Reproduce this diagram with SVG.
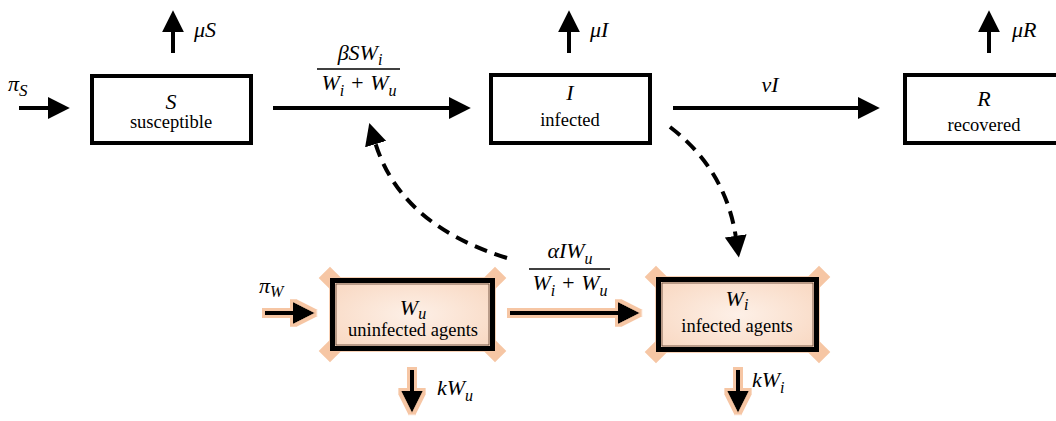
<svg xmlns="http://www.w3.org/2000/svg" width="1056" height="421" viewBox="0 0 1056 421">
<defs>
<style>
.box{fill:#fff;stroke:#000;stroke-width:4}
.wbox{fill:url(#peach);stroke:#000;stroke-width:5}
.inner{fill:none;stroke:#5a3a28;stroke-width:0.8}
.halo{fill:#f8d2b7}
.corner{fill:#f6c6a4}
.flow{stroke:#000;stroke-width:4;fill:none;marker-end:url(#ah)}
.dash{stroke:#000;stroke-width:4;fill:none;stroke-dasharray:13 8;marker-end:url(#ah)}
.frac{stroke:#000;stroke-width:1.5}
text{font-family:'Liberation Serif','Times New Roman','DejaVu Serif',serif;fill:#000}
.m{font-style:italic;font-size:22px}
.t{font-size:18.5px}
.sub{font-size:16px}
</style>
<radialGradient id="peach" cx="50%" cy="50%" r="60%">
<stop offset="0" stop-color="#fdf0e7"/>
<stop offset="1" stop-color="#f9dac5"/>
</radialGradient>
<marker id="ah" viewBox="0 0 10 10" refX="1" refY="5" markerWidth="22" markerHeight="22" markerUnits="userSpaceOnUse" orient="auto"><path d="M0,0L10,5L0,10z" fill="#000"/></marker>
<filter id="glow" filterUnits="userSpaceOnUse" x="0" y="0" width="1056" height="421">
<feMorphology in="SourceAlpha" operator="dilate" radius="2.5" result="d"/>
<feFlood flood-color="#f6c6a4"/>
<feComposite in2="d" operator="in" result="g"/>
<feMerge><feMergeNode in="g"/><feMergeNode in="SourceGraphic"/></feMerge>
</filter>
</defs>
<rect width="1056" height="421" fill="#fff"/>

<g id="node-S" font-family="Liberation Serif, serif">
<rect class="box" x="92" y="76" width="159" height="67"/>
<text class="m" x="171" y="109" text-anchor="middle">S</text>
<text class="t" x="171" y="128" text-anchor="middle">susceptible</text>
</g>

<g id="node-I" font-family="Liberation Serif, serif">
<rect class="box" x="491" y="75" width="159" height="68"/>
<text class="m" x="570" y="100" text-anchor="middle">I</text>
<text class="t" x="570" y="126" text-anchor="middle">infected</text>
</g>

<g id="node-R" font-family="Liberation Serif, serif">
<rect class="box" x="905" y="75" width="159" height="68"/>
<text class="m" x="984" y="106" text-anchor="middle">R</text>
<text class="t" x="984" y="131" text-anchor="middle">recovered</text>
</g>

<g id="node-Wu" font-family="Liberation Serif, serif">
<rect class="halo" x="329" y="277" width="167" height="75"/>
<rect class="corner" x="322" y="270" width="16" height="16" transform="rotate(45 330 278)"/>
<rect class="corner" x="487" y="270" width="16" height="16" transform="rotate(45 495 278)"/>
<rect class="corner" x="322" y="343" width="16" height="16" transform="rotate(45 330 351)"/>
<rect class="corner" x="487" y="343" width="16" height="16" transform="rotate(45 495 351)"/>
<rect class="wbox" x="332.5" y="280.5" width="160" height="68"/>
<rect class="inner" x="336" y="284" width="153" height="61"/>
<text class="m" x="413" y="315" text-anchor="middle">W<tspan class="sub" dy="4">u</tspan></text>
<text class="t" x="413" y="336" text-anchor="middle">uninfected agents</text>
</g>

<g id="node-Wi" font-family="Liberation Serif, serif">
<rect class="halo" x="655" y="276" width="165" height="77"/>
<rect class="corner" x="648" y="269" width="16" height="16" transform="rotate(45 656 277)"/>
<rect class="corner" x="811" y="269" width="16" height="16" transform="rotate(45 819 277)"/>
<rect class="corner" x="648" y="344" width="16" height="16" transform="rotate(45 656 352)"/>
<rect class="corner" x="811" y="344" width="16" height="16" transform="rotate(45 819 352)"/>
<rect class="wbox" x="658.5" y="279.5" width="158" height="70"/>
<rect class="inner" x="662" y="283" width="151" height="63"/>
<text class="m" x="737" y="306" text-anchor="middle">W<tspan class="sub" dy="4">i</tspan></text>
<text class="t" x="737" y="332" text-anchor="middle">infected agents</text>
</g>

<g id="connectors">
<path class="flow" d="M19,108H50"/>
<path class="flow" d="M173,53V30"/>
<path class="flow" d="M569,53V30"/>
<path class="flow" d="M989,53V30"/>
<path class="flow" d="M273,108H451"/>
<path class="flow" d="M673,108H860"/>
<g filter="url(#glow)">
<path class="flow" d="M265,313H295"/>
<path class="flow" d="M510,313H620"/>
<path class="flow" d="M412,370V393"/>
<path class="flow" d="M738,370V393"/>
</g>
<path class="dash" d="M507,258Q400,225 375,142"/>
<path class="dash" d="M670,127Q726,170 736,238"/>
<line class="frac" x1="317" y1="69" x2="400" y2="69"/>
<line class="frac" x1="529" y1="269" x2="610" y2="269"/>
</g>

<g id="labels" font-family="Liberation Serif, serif">
<text class="m" x="8" y="91">π<tspan font-size="17" dy="5">S</tspan></text>
<text class="m" x="194" y="37">μS</text>
<text class="m" x="590" y="37">μI</text>
<text class="m" x="1012" y="37">μR</text>
<text class="m" x="360" y="60" text-anchor="middle">βSW<tspan class="sub" dy="5">i</tspan></text>
<text class="m" x="359" y="90" text-anchor="middle">W<tspan class="sub" dy="6">i</tspan><tspan dy="-6"> + W</tspan><tspan class="sub" dy="6">u</tspan></text>
<text class="m" x="770" y="92" text-anchor="middle">vI</text>
<text class="m" x="259" y="293">π<tspan font-size="16" dy="4">W</tspan></text>
<text class="m" x="570" y="258" text-anchor="middle">αIW<tspan class="sub" dy="6">u</tspan></text>
<text class="m" x="570" y="290" text-anchor="middle">W<tspan class="sub" dy="6">i</tspan><tspan dy="-6"> + W</tspan><tspan class="sub" dy="6">u</tspan></text>
<text class="m" x="437" y="395">kW<tspan class="sub" dy="6">u</tspan></text>
<text class="m" x="752" y="387">kW<tspan class="sub" dy="6">i</tspan></text>
</g>
</svg>
